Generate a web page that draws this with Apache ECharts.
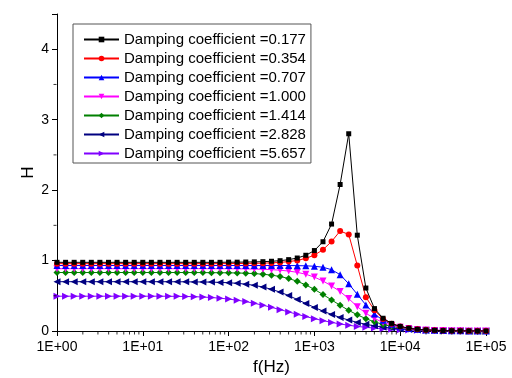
<!DOCTYPE html>
<html>
<head>
<meta charset="utf-8">
<script src="https://cdn.jsdelivr.net/npm/echarts@6/dist/echarts.min.js"></script>
<style>
  html, body { margin: 0; padding: 0; background: #fff; }
  #main { width: 512px; height: 378px; }
</style>
</head>
<body>
<div id="main"></div>
<script>
// frequency points (Hz), 10 per decade
var freq = [1, 1.259, 1.585, 1.995, 2.512, 3.162, 3.981, 5.012, 6.31, 7.943,
  10, 12.59, 15.85, 19.95, 25.12, 31.62, 39.81, 50.12, 63.1, 79.43,
  100, 125.9, 158.5, 199.5, 251.2, 316.2, 398.1, 501.2, 631, 794.3,
  1000, 1259, 1585, 1995, 2512, 3162, 3981, 5012, 6310, 7943,
  10000, 12589, 15849, 19953, 25119, 31623, 39811, 50119, 63096, 79433, 100000];

var names = ['Damping coefficient =0.177', 'Damping coefficient =0.354', 'Damping coefficient =0.707',
  'Damping coefficient =1.000', 'Damping coefficient =1.414', 'Damping coefficient =2.828',
  'Damping coefficient =5.657'];

var h0177 = [0.975, 0.975, 0.975, 0.975, 0.975, 0.975, 0.975, 0.975, 0.975, 0.975,
  0.975, 0.975, 0.975, 0.975, 0.975, 0.975, 0.975, 0.975, 0.975, 0.975,
  0.977, 0.977, 0.979, 0.981, 0.984, 0.990, 0.998, 1.013, 1.036, 1.075,
  1.142, 1.267, 1.518, 2.08, 2.80, 1.36, 0.61, 0.318, 0.181, 0.108,
  0.065, 0.040, 0.025, 0.016, 0.010, 0.006, 0.004, 0.0025, 0.0016, 0.001, 0.0006];

var h0354 = [0.956, 0.956, 0.956, 0.956, 0.956, 0.956, 0.956, 0.956, 0.956, 0.956,
  0.956, 0.956, 0.956, 0.956, 0.956, 0.956, 0.956, 0.956, 0.956, 0.956,
  0.957, 0.958, 0.959, 0.961, 0.963, 0.967, 0.974, 0.985, 1.002, 1.031,
  1.077, 1.154, 1.27, 1.42, 1.37, 0.93, 0.48, 0.295, 0.171, 0.103,
  0.063, 0.039, 0.0245, 0.0153, 0.0096, 0.0061, 0.0038, 0.0024, 0.0015, 0.00096, 0.0006];

var h0707 = [0.93, 0.93, 0.93, 0.93, 0.93, 0.93, 0.93, 0.93, 0.93, 0.93,
  0.93, 0.93, 0.93, 0.93, 0.93, 0.93, 0.93, 0.93, 0.93, 0.93,
  0.93, 0.93, 0.93, 0.93, 0.93, 0.93, 0.93, 0.929, 0.928, 0.925,
  0.919, 0.905, 0.87, 0.80, 0.67, 0.52, 0.37, 0.24, 0.152, 0.095,
  0.059, 0.037, 0.0234, 0.0147, 0.0093, 0.0059, 0.0037, 0.0023, 0.0015, 0.00093, 0.00059];

var h1000 = [0.885, 0.885, 0.885, 0.885, 0.885, 0.885, 0.885, 0.885, 0.885, 0.885,
  0.885, 0.885, 0.885, 0.885, 0.885, 0.885, 0.885, 0.885, 0.884, 0.884,
  0.884, 0.883, 0.882, 0.879, 0.876, 0.871, 0.863, 0.851, 0.833, 0.805,
  0.765, 0.71, 0.64, 0.56, 0.46, 0.345, 0.252, 0.178, 0.121, 0.081,
  0.0525, 0.034, 0.0217, 0.0138, 0.0088, 0.0056, 0.0035, 0.0022, 0.0014, 0.00088, 0.00056];

var h1414 = [0.83, 0.83, 0.83, 0.83, 0.83, 0.83, 0.83, 0.83, 0.83, 0.83,
  0.83, 0.83, 0.83, 0.83, 0.83, 0.8296, 0.8294, 0.829, 0.828, 0.827,
  0.826, 0.824, 0.820, 0.815, 0.806, 0.793, 0.774, 0.745, 0.706, 0.654,
  0.591, 0.518, 0.441, 0.365, 0.293, 0.23, 0.175, 0.13, 0.094, 0.065,
  0.0445, 0.0297, 0.0194, 0.0126, 0.0081, 0.0052, 0.0033, 0.0021, 0.0013, 0.00083, 0.00052];

var h2828 = [0.70, 0.70, 0.70, 0.70, 0.70, 0.70, 0.70, 0.70, 0.70, 0.70,
  0.70, 0.70, 0.70, 0.699, 0.699, 0.698, 0.697, 0.696, 0.694, 0.690,
  0.685, 0.677, 0.665, 0.648, 0.624, 0.592, 0.552, 0.503, 0.447, 0.39,
  0.335, 0.283, 0.235, 0.192, 0.155, 0.122, 0.095, 0.073, 0.055, 0.041,
  0.030, 0.021, 0.0145, 0.0098, 0.0065, 0.0043, 0.0028, 0.0018, 0.0011, 0.0007, 0.00045];

var h5657 = [0.494, 0.494, 0.494, 0.494, 0.494, 0.494, 0.494, 0.494, 0.494, 0.494,
  0.494, 0.494, 0.494, 0.493, 0.492, 0.490, 0.487, 0.482, 0.475, 0.466,
  0.453, 0.437, 0.417, 0.393, 0.366, 0.336, 0.303, 0.27, 0.237, 0.205,
  0.175, 0.147, 0.122, 0.100, 0.081, 0.065, 0.052, 0.041, 0.032, 0.025,
  0.019, 0.0145, 0.011, 0.008, 0.006, 0.0044, 0.0032, 0.0023, 0.0016, 0.0011, 0.0008];

// minor tick positions
var xMinor = [2, 3, 4, 5, 6, 7, 8, 9,
  20, 30, 40, 50, 60, 70, 80, 90,
  200, 300, 400, 500, 600, 700, 800, 900,
  2000, 3000, 4000, 5000, 6000, 7000, 8000, 9000,
  20000, 30000, 40000, 50000, 60000, 70000, 80000, 90000];
var yMinor = [0.5, 1.5, 2.5, 3.5];

var chart = echarts.init(document.getElementById('main'), null, { renderer: 'canvas' });

var colors = ['#000000', '#ff0000', '#0000ff', '#ff00ff', '#008000', '#000080', '#8000ff'];
var symbols = ['rect', 'circle', 'triangle', 'path://M0,0 L10,0 L5,10 Z', 'diamond',
  'path://M10,0 L10,10 L0,5 Z', 'path://M0,0 L0,10 L10,5 Z'];
var sizes = [5, 6, 7, 7, 7, 7, 7];
var values = [h0177, h0354, h0707, h1000, h1414, h2828, h5657];

function pairs(ys) {
  var out = [];
  for (var i = 0; i < freq.length; i++) out.push([freq[i], ys[i]]);
  return out;
}

var series = [];
for (var k = 0; k < names.length; k++) {
  series.push({
    name: names[k],
    type: 'line',
    data: pairs(values[k]),
    symbol: symbols[k],
    symbolSize: sizes[k],
    showAllSymbol: true,
    color: colors[k],
    lineStyle: { width: 1, color: colors[k] },
    itemStyle: { color: colors[k] },
    z: 10 - k,
    animation: false
  });
}

// short minor ticks, drawn on the axes' own scales
series.push({
  type: 'scatter',
  silent: true,
  clip: false,
  data: xMinor.map(function (v) { return [v, 0]; }),
  symbol: 'rect',
  symbolSize: [1, 3],
  symbolOffset: [0, 2],
  itemStyle: { color: '#000' },
  z: 20
});
series.push({
  type: 'scatter',
  silent: true,
  clip: false,
  data: yMinor.map(function (v) { return [1, v]; }),
  symbol: 'rect',
  symbolSize: [3, 1],
  symbolOffset: [-2, 0],
  itemStyle: { color: '#000' },
  z: 20
});

var font = 'Arial, "Liberation Sans", sans-serif';

var option = {
  backgroundColor: '#fff',
  animation: false,
  grid: { left: 57, right: 26, top: 14, bottom: 47, containLabel: false, outerBoundsMode: 'none' },
  legend: {
    orient: 'vertical',
    left: 73,
    top: 24,
    data: names,
    itemWidth: 35,
    itemHeight: 7,
    itemGap: 4,
    padding: [8, 5, 2, 10],
    borderColor: '#555',
    borderWidth: 1,
    textStyle: { fontFamily: font, fontSize: 15, color: '#000', lineHeight: 15 }
  },
  xAxis: {
    type: 'log',
    logBase: 10,
    min: 1,
    max: 100000,
    name: 'f(Hz)',
    nameLocation: 'middle',
    nameGap: 28,
    nameTextStyle: { fontFamily: font, fontSize: 17, color: '#000' },
    axisLine: { lineStyle: { color: '#000', width: 1 } },
    axisTick: { show: true, inside: false, length: 5, lineStyle: { color: '#000', width: 1 } },
    splitLine: { show: false },
    axisLabel: {
      fontFamily: font, fontSize: 14, color: '#000', margin: 9,
      formatter: function (v) {
        var e = Math.round(Math.log(v) / Math.LN10);
        return '1E+' + (e < 10 ? '0' + e : e);
      }
    }
  },
  yAxis: {
    type: 'value',
    min: 0,
    max: 4.5,
    interval: 1,
    name: 'H',
    nameLocation: 'middle',
    nameGap: 20,
    nameRotate: 90,
    nameMoveOverlap: false,
    nameTextStyle: { fontFamily: font, fontSize: 17, color: '#000' },
    axisLine: { show: true, lineStyle: { color: '#000', width: 1 } },
    axisTick: { show: true, inside: false, length: 5, lineStyle: { color: '#000', width: 1 } },
    splitLine: { show: false },
    axisLabel: {
      fontFamily: font, fontSize: 14, color: '#000', margin: 8,
      formatter: function (v) { return v % 1 === 0 ? String(v) : ''; }
    }
  },
  series: series
};

chart.setOption(option);
</script>
</body>
</html>
